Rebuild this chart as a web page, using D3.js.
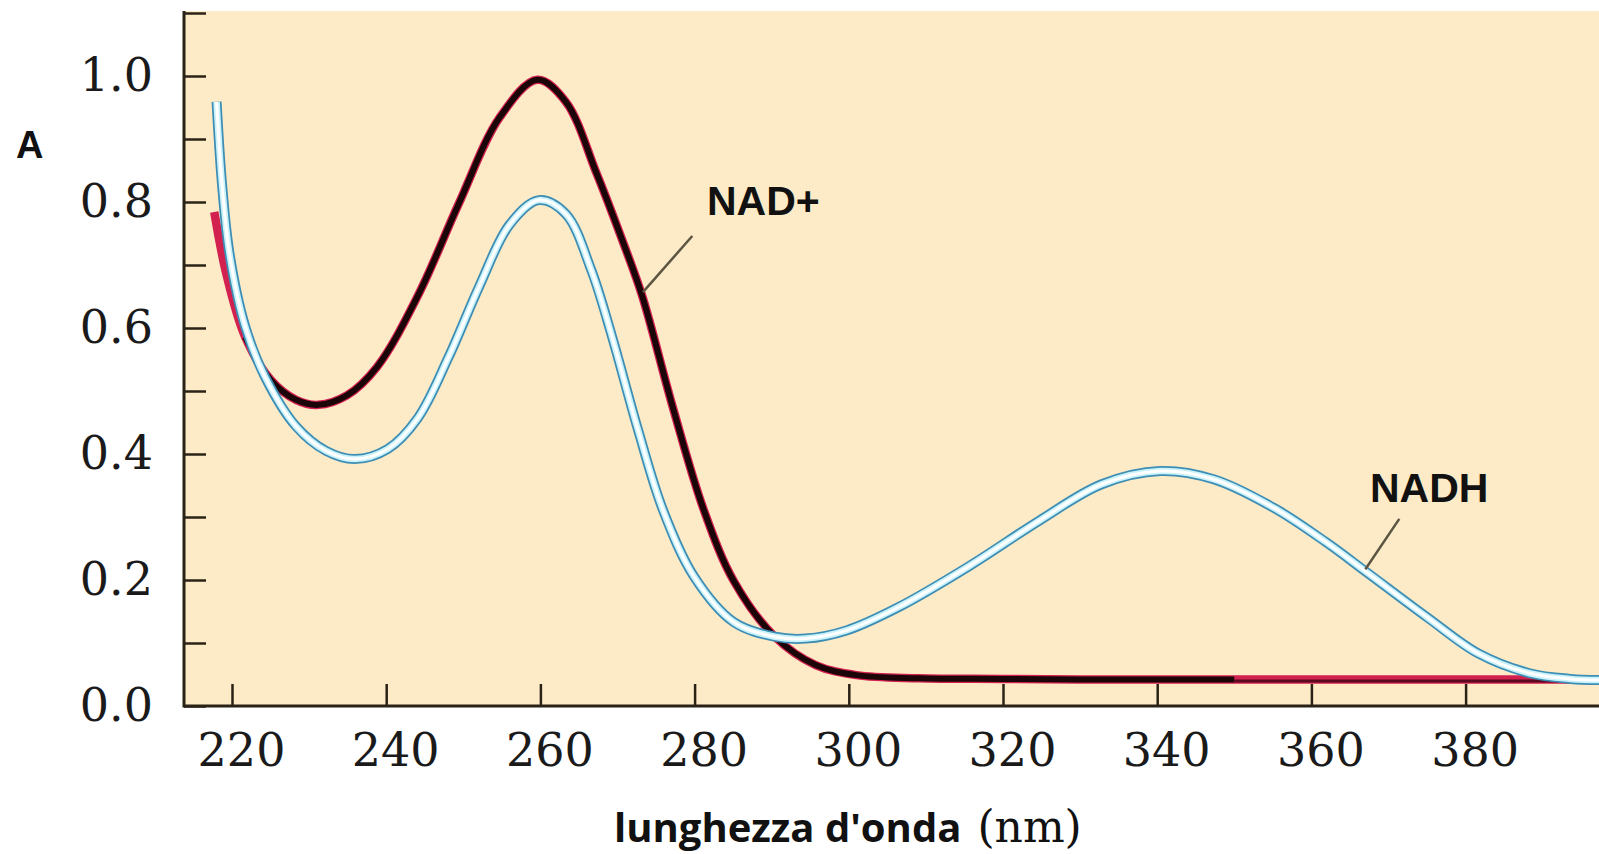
<!DOCTYPE html>
<html>
<head>
<meta charset="utf-8">
<script src="https://cdn.jsdelivr.net/npm/d3@7"></script>
<style>
  html, body { margin: 0; padding: 0; background: #fff; overflow: hidden; }
</style>
</head>
<body>
<div id="chart"></div>
<script>
// NAD+ absorption spectrum (nm, absorbance)
const nadPlusNm = [217.7, 219.3, 221.7, 225.0, 228.3, 231.2, 234.9, 238.8, 244.1, 249.4, 254.7, 259.6,
  263.3, 267.3, 270.6, 273.2, 277.2, 281.2, 285.1, 290.4, 295.7, 301.0, 309.0, 320, 335, 350, 365, 380, 398];
const nadPlusA = [0.784, 0.684, 0.586, 0.518, 0.486, 0.478, 0.493, 0.538, 0.651, 0.797, 0.934, 0.994,
  0.959, 0.845, 0.740, 0.651, 0.473, 0.311, 0.198, 0.110, 0.065, 0.049, 0.044, 0.043, 0.042, 0.042, 0.042, 0.042, 0.042];

// NADH absorption spectrum
const nadhNm = [218.0, 218.7, 219.7, 221.7, 224.3, 228.3, 232.2, 235.9, 240.2, 244.1, 248.1, 252.1, 256.0,
  259.8, 263.3, 266.6, 269.3, 272.6, 275.9, 279.9, 285.1, 290.4, 294.4, 299.7, 306.3, 315.6, 324.8, 332.8,
  340.4, 347.3, 355.2, 361.9, 367.2, 375.1, 381.7, 388.3, 393.6, 398];
const nadhA = [0.959, 0.829, 0.716, 0.603, 0.522, 0.444, 0.405, 0.392, 0.408, 0.457, 0.554, 0.667, 0.764,
  0.803, 0.781, 0.692, 0.586, 0.441, 0.311, 0.206, 0.133, 0.110, 0.107, 0.120, 0.156, 0.222, 0.295, 0.352,
  0.373, 0.360, 0.314, 0.260, 0.212, 0.140, 0.083, 0.052, 0.043, 0.041];

const xTicks = [220, 240, 260, 280, 300, 320, 340, 360, 380];
const yTicks = [0, 0.1, 0.2, 0.3, 0.4, 0.5, 0.6, 0.7, 0.8, 0.9, 1.0, 1.1];

// labels: text, anchor point and leader line (nm, A)
const labelNames = ['NAD+', 'NADH'];
const labelAt = [[281.6, 0.779], [367.6, 0.324]];
const leaderFrom = [[279.7, 0.746], [371.4, 0.297]];
const leaderTo = [[273.3, 0.657], [367.0, 0.217]];

const width = 1599, height = 854;
const plotLeft = 184, plotTop = 11, plotBottom = 706;

const svg = d3.select('#chart').append('svg')
  .attr('width', width)
  .attr('height', height);

const x = d3.scaleLinear().domain([220, 380]).range([232, 1465.6]);
const y = d3.scaleLinear().domain([0, 1.1]).range([plotBottom, 13]);

// plot background
svg.append('rect')
  .attr('x', plotLeft).attr('y', plotTop)
  .attr('width', width - plotLeft).attr('height', plotBottom - plotTop)
  .attr('fill', '#fdebc8');

const axisColor = '#2b2216';

// y axis
const yAxis = d3.axisLeft(y)
  .tickValues(yTicks)
  .tickSizeInner(-22)
  .tickSizeOuter(0)
  .tickPadding(31)
  .tickFormat(d => (Math.round(d * 10) % 2 === 0 && d < 1.05) ? d3.format('.1f')(d) : '');

const gy = svg.append('g').attr('transform', `translate(${plotLeft},0)`).call(yAxis);
gy.select('.domain').remove();
gy.selectAll('line').attr('stroke', axisColor).attr('stroke-width', 2.5);
gy.selectAll('text')
  .attr('fill', '#1a1a1a')
  .style('font-family', '"DejaVu Serif", serif')
  .style('font-size', '46px');

// x axis
const xAxis = d3.axisBottom(x)
  .tickValues(xTicks)
  .tickSizeInner(-22)
  .tickSizeOuter(0)
  .tickPadding(27)
  .tickFormat(d3.format('d'));

const gx = svg.append('g').attr('transform', `translate(0,${plotBottom})`).call(xAxis);
gx.select('.domain').remove();
gx.selectAll('line').attr('stroke', axisColor).attr('stroke-width', 2.5);
gx.selectAll('text')
  .attr('dx', 9)
  .attr('fill', '#1a1a1a')
  .style('font-family', '"DejaVu Serif", serif')
  .style('font-size', '46px');

// axis lines
svg.append('line')
  .attr('x1', plotLeft).attr('x2', plotLeft).attr('y1', plotTop).attr('y2', plotBottom + 1.5)
  .attr('stroke', axisColor).attr('stroke-width', 3);
svg.append('line')
  .attr('x1', plotLeft).attr('x2', width).attr('y1', plotBottom).attr('y2', plotBottom)
  .attr('stroke', axisColor).attr('stroke-width', 3);

const line = d3.line()
  .x(d => x(d[0]))
  .y(d => y(d[1]))
  .curve(d3.curveCatmullRom.alpha(0.5));

const nadPlus = nadPlusNm.map((n, i) => [n, nadPlusA[i]]);
const nadh = nadhNm.map((n, i) => [n, nadhA[i]]);

// NAD+ : crimson edge with black core
svg.append('path').datum(nadPlus)
  .attr('d', line).attr('fill', 'none')
  .attr('stroke', '#d3214f').attr('stroke-width', 8.5);
svg.append('path').datum(nadPlus.filter(d => d[0] >= 221 && d[0] <= 352))
  .attr('d', line).attr('fill', 'none')
  .attr('stroke', '#1c0508').attr('stroke-width', 6);
svg.append('path').datum(nadPlus.filter(d => d[0] >= 350))
  .attr('d', line).attr('fill', 'none')
  .attr('stroke', '#5a0a1e').attr('stroke-width', 3)
  .attr('transform', 'translate(0,1.5)');

// NADH : blue outline, light cyan and white core
svg.append('path').datum(nadh)
  .attr('d', line).attr('fill', 'none')
  .attr('stroke', '#3d8db4').attr('stroke-width', 10);
svg.append('path').datum(nadh)
  .attr('d', line).attr('fill', 'none')
  .attr('stroke', '#c9f2fa').attr('stroke-width', 6.5);
svg.append('path').datum(nadh)
  .attr('d', line).attr('fill', 'none')
  .attr('stroke', '#ffffff').attr('stroke-width', 3);

// leader lines and series names
labelNames.forEach((name, i) => {
  svg.append('line')
    .attr('x1', x(leaderFrom[i][0])).attr('y1', y(leaderFrom[i][1]))
    .attr('x2', x(leaderTo[i][0])).attr('y2', y(leaderTo[i][1]))
    .attr('stroke', '#5b5541').attr('stroke-width', 2.5);
  svg.append('text')
    .attr('x', x(labelAt[i][0])).attr('y', y(labelAt[i][1]))
    .attr('fill', '#111')
    .style('font-family', '"Liberation Sans", Arial, sans-serif')
    .style('font-weight', 'bold')
    .style('font-size', '41px')
    .text(name);
});

// axis titles
svg.append('text')
  .attr('x', 16).attr('y', 158)
  .attr('fill', '#111')
  .style('font-family', '"Liberation Sans", Arial, sans-serif')
  .style('font-weight', 'bold')
  .style('font-size', '38px')
  .text('A');

const xt = svg.append('text')
  .attr('x', 614).attr('y', 842)
  .attr('fill', '#111');
xt.append('tspan')
  .style('font-family', '"Open Sans", sans-serif')
  .style('font-weight', 'bold')
  .style('font-size', '40px')
  .text("lunghezza d'onda");
xt.append('tspan')
  .attr('dx', 16)
  .style('font-family', '"DejaVu Serif", serif')
  .style('font-size', '44px')
  .text('(nm)');
</script>
</body>
</html>
